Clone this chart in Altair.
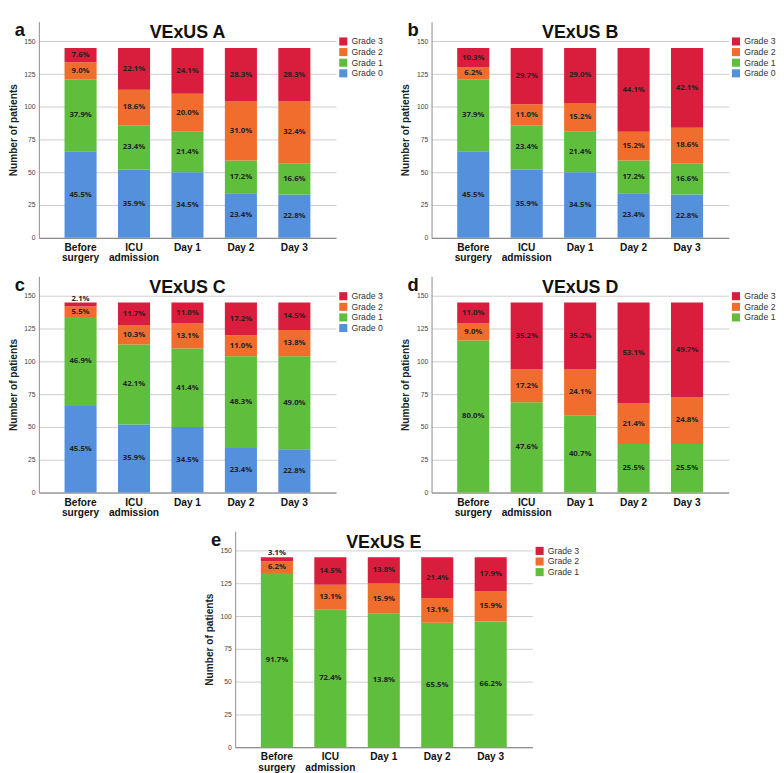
import altair as alt
import pandas as pd

days = ["Before surgery", "ICU admission", "Day 1", "Day 2", "Day 3"]
grades4 = ["Grade 3", "Grade 2", "Grade 1", "Grade 0"]
grades3 = ["Grade 3", "Grade 2", "Grade 1"]
colors4 = ["#d81e3c", "#f06d2e", "#5fbf3d", "#5590dc"]
colors3 = ["#d81e3c", "#f06d2e", "#5fbf3d"]
y_ticks = [0, 25, 50, 75, 100, 125, 150]

# Panel A counts (n=145) and printed labels
A_g0 = [66, 52, 50, 34, 33]
A_g1 = [55, 34, 31, 25, 24]
A_g2 = [13, 27, 29, 45, 47]
A_g3 = [11, 32, 35, 41, 41]
A_l0 = ["45.5%", "35.9%", "34.5%", "23.4%", "22.8%"]
A_l1 = ["37.9%", "23.4%", "21.4%", "17.2%", "16.6%"]
A_l2 = ["9.0%", "18.6%", "20.0%", "31.0%", "32.4%"]
A_l3 = ["7.6%", "22.1%", "24.1%", "28.3%", "28.3%"]

# Panel B
B_g0 = [66, 52, 50, 34, 33]
B_g1 = [55, 34, 31, 25, 24]
B_g2 = [9, 16, 22, 22, 27]
B_g3 = [15, 43, 42, 64, 61]
B_l0 = ["45.5%", "35.9%", "34.5%", "23.4%", "22.8%"]
B_l1 = ["37.9%", "23.4%", "21.4%", "17.2%", "16.6%"]
B_l2 = ["6.2%", "11.0%", "15.2%", "15.2%", "18.6%"]
B_l3 = ["10.3%", "29.7%", "29.0%", "44.1%", "42.1%"]

# Panel C
C_g0 = [66, 52, 50, 34, 33]
C_g1 = [68, 61, 60, 70, 71]
C_g2 = [8, 15, 19, 16, 20]
C_g3 = [3, 17, 16, 25, 21]
C_l0 = ["45.5%", "35.9%", "34.5%", "23.4%", "22.8%"]
C_l1 = ["46.9%", "42.1%", "41.4%", "48.3%", "49.0%"]
C_l2 = ["5.5%", "10.3%", "13.1%", "11.0%", "13.8%"]
C_l3 = ["2.1%", "11.7%", "11.0%", "17.2%", "14.5%"]

# Panel D
D_g1 = [116, 69, 59, 37, 37]
D_g2 = [13, 25, 35, 31, 36]
D_g3 = [16, 51, 51, 77, 72]
D_l1 = ["80.0%", "47.6%", "40.7%", "25.5%", "25.5%"]
D_l2 = ["9.0%", "17.2%", "24.1%", "21.4%", "24.8%"]
D_l3 = ["11.0%", "35.2%", "35.2%", "53.1%", "49.7%"]

# Panel E
E_g1 = [133, 105, 102, 95, 96]
E_g2 = [9, 19, 23, 19, 23]
E_g3 = [3, 21, 20, 31, 26]
E_l1 = ["91.7%", "72.4%", "13.8%", "65.5%", "66.2%"]
E_l2 = ["6.2%", "13.1%", "15.9%", "13.1%", "15.9%"]
E_l3 = ["3.1%", "14.5%", "13.8%", "21.4%", "17.9%"]

W = 308
H = 224
FONT = "Liberation Sans"


def make_df(series):
    rows = []
    for gi, (grade, counts, labels) in enumerate(series):
        for d, c, l in zip(days, counts, labels):
            rows.append({"day": d, "grade": grade, "gi": gi, "count": c, "lbl": l})
    return pd.DataFrame(rows)


def panel(letter, title, series, grades, colors):
    df = make_df(series)
    base = alt.Chart(df).transform_stack(
        stack="count", groupby=["day"], as_=["y0", "y1"],
        sort=[alt.SortField("gi", order="ascending")]
    ).transform_calculate(
        ty="datum.count < 5 ? datum.y1 + 3 : (datum.y0 + datum.y1) / 2"
    )

    xaxis = alt.Axis(labelAngle=0, labelFontSize=10.5, labelFontWeight="bold",
                     labelColor="#111", labelFont=FONT, ticks=False, grid=False,
                     domainColor="#777", labelPadding=5, labelLineHeight=11,
                     labelExpr="indexof(datum.label, 'Day') == 0 ? datum.label : split(datum.label, ' ')")
    xscale = alt.Scale(paddingInner=0.4, paddingOuter=0.48)
    yaxis = alt.Axis(values=y_ticks, labelFontSize=7, labelColor="#444", ticks=False,
                     domainColor="#888", grid=True, gridColor="#cccccc",
                     titleFontSize=10.5, titleFontWeight="bold", titleColor="#222",
                     titleFont=FONT, labelFont=FONT, labelPadding=4, titlePadding=6)
    yscale = alt.Scale(domain=[0, 165], nice=False)

    bars = base.mark_bar().encode(
        x=alt.X("day:N", sort=days, title=None, scale=xscale, axis=xaxis),
        y=alt.Y("y0:Q", scale=yscale, title="Number of patients", axis=yaxis),
        y2="y1:Q",
        color=alt.Color("grade:N", scale=alt.Scale(domain=grades, range=colors),
                        legend=alt.Legend(title=None, orient="none", legendX=W + 3, legendY=16,
                                          symbolType="square", symbolSize=70, symbolStrokeWidth=0,
                                          labelFontSize=9, labelColor="#333", labelFont=FONT,
                                          rowPadding=1, padding=0)),
    )
    texts = base.mark_text(fontSize=8, fontWeight="bold", color="#222", font="Open Sans").encode(
        x=alt.X("day:N", sort=days, title=None, scale=xscale, axis=xaxis),
        y=alt.Y("ty:Q", scale=yscale, title="Number of patients", axis=yaxis),
        text="lbl:N",
    )
    ttl = alt.Chart(alt.Data(values=[{"t": title}])).mark_text(
        fontSize=18.5, fontWeight="bold", font=FONT, color="#111", baseline="middle"
    ).encode(x=alt.value(W / 2), y=alt.value(11), text="t:N")
    let = alt.Chart(alt.Data(values=[{"t": letter}])).mark_text(
        fontSize=19, fontWeight="bold", font=FONT, color="#111", baseline="middle", align="left"
    ).encode(x=alt.value(-25), y=alt.value(9), text="t:N")
    return alt.layer(bars, texts, ttl, let).properties(
        width=W, height=H, view=alt.ViewBackground(stroke="transparent", strokeWidth=0, strokeOpacity=0)
    )


pa = panel("a", "VExUS A", [("Grade 0", A_g0, A_l0), ("Grade 1", A_g1, A_l1),
                            ("Grade 2", A_g2, A_l2), ("Grade 3", A_g3, A_l3)], grades4, colors4)
pb = panel("b", "VExUS B", [("Grade 0", B_g0, B_l0), ("Grade 1", B_g1, B_l1),
                            ("Grade 2", B_g2, B_l2), ("Grade 3", B_g3, B_l3)], grades4, colors4)
pc = panel("c", "VExUS C", [("Grade 0", C_g0, C_l0), ("Grade 1", C_g1, C_l1),
                            ("Grade 2", C_g2, C_l2), ("Grade 3", C_g3, C_l3)], grades4, colors4)
pd_ = panel("d", "VExUS D", [("Grade 1", D_g1, D_l1), ("Grade 2", D_g2, D_l2),
                             ("Grade 3", D_g3, D_l3)], grades3, colors3)
pe = panel("e", "VExUS E", [("Grade 1", E_g1, E_l1), ("Grade 2", E_g2, E_l2),
                            ("Grade 3", E_g3, E_l3)], grades3, colors3)


def res(c):
    return c.resolve_scale(color="independent", x="independent", y="independent").resolve_legend(color="independent")


row1 = res(alt.hconcat(pa, pb, spacing=18))
row2 = res(alt.hconcat(pc, pd_, spacing=18))
chart = res(alt.vconcat(row1, row2, pe, spacing=13, center=True)).properties(
    padding=0, background="white"
).configure(
    padding=0,
    background="white",
    view=alt.ViewConfig(stroke="transparent", strokeWidth=0),
    style={"cell": {"stroke": "transparent", "strokeWidth": 0}},
)

chart.save("out.html", embed_options={"renderer": "svg", "actions": False})
